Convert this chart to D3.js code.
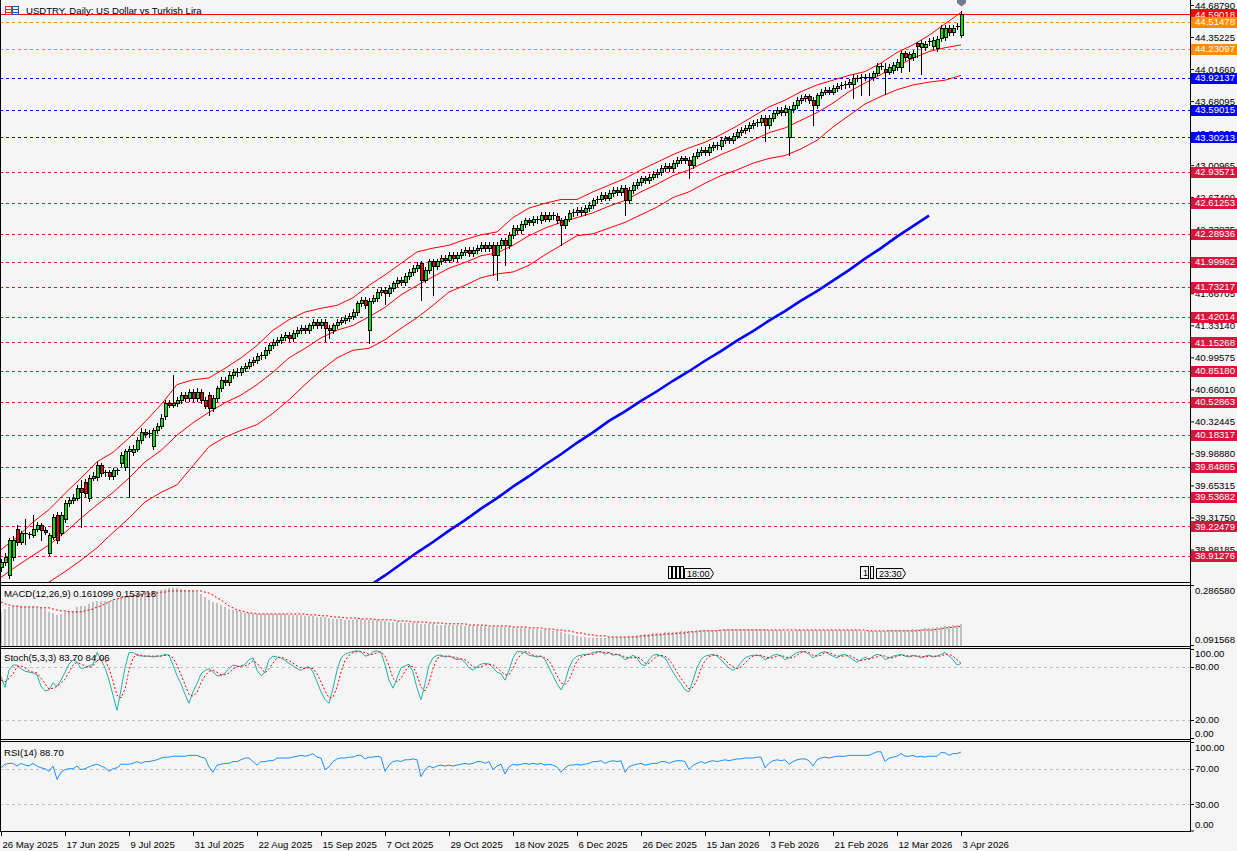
<!DOCTYPE html>
<html><head><meta charset="utf-8">
<script src="https://cdn.jsdelivr.net/npm/d3@7"></script>
<style>
html,body{margin:0;padding:0;background:#f5f5f5;overflow:hidden;}
svg{display:block;font-family:"Liberation Sans",Arial,sans-serif;}
</style></head><body>
<script>
// ---------------- DATA ----------------
const title = "USDTRY, Daily:  US Dollar vs Turkish Lira";
const dateLabels = ["26 May 2025","17 Jun 2025","9 Jul 2025","31 Jul 2025","22 Aug 2025","15 Sep 2025","7 Oct 2025","29 Oct 2025","18 Nov 2025","6 Dec 2025","26 Dec 2025","15 Jan 2026","3 Feb 2026","21 Feb 2026","12 Mar 2026","3 Apr 2026"];
const priceTicks = [44.68790,44.35225,44.01660,43.68095,43.34530,43.00965,42.67400,42.33835,42.00270,41.66705,41.33140,40.99575,40.66010,40.32445,39.98880,39.65315,39.31750,38.98185];
const bidPrice = 44.59018;
const orangeLevels = [44.51478,44.23097];
const blueLevels = [43.92137,43.59015,43.30213];
const crimsonLevels = [42.93571,42.61253,42.28936,41.99962,41.73217,41.42014,41.15268,40.85180,40.52863,40.18317,39.84885,39.53682,39.22479,38.91276];

const open = [38.80,38.85,38.71,38.90,39.20,39.06,39.15,39.14,39.13,39.20,
39.24,39.19,38.95,39.11,39.34,39.16,39.30,39.47,39.50,39.52,
39.63,39.69,39.52,39.73,39.74,39.87,39.78,39.79,39.75,39.81,
39.89,39.85,40.01,40.00,40.04,40.13,40.21,40.19,40.07,40.23,
40.28,40.38,40.52,40.50,40.52,40.55,40.60,40.57,40.63,40.57,
40.63,40.55,40.60,40.46,40.57,40.67,40.76,40.74,40.81,40.84,
40.84,40.88,40.91,40.95,40.97,41.01,41.02,41.07,41.12,41.16,
41.18,41.21,41.23,41.20,41.25,41.28,41.30,41.28,41.33,41.37,
41.33,41.37,41.30,41.28,41.33,41.37,41.39,41.41,41.43,41.47,
41.56,41.60,41.28,41.59,41.62,41.68,41.70,41.67,41.72,41.77,
41.81,41.78,41.85,41.89,41.93,41.98,41.81,41.91,42.00,41.95,
42.00,42.04,42.02,42.07,42.04,42.07,42.10,42.12,42.09,42.12,
42.14,42.17,42.14,42.17,42.07,42.17,42.22,42.17,42.28,42.35,
42.33,42.39,42.43,42.41,42.45,42.43,42.49,42.45,42.49,42.48,
42.43,42.38,42.45,42.51,42.52,42.54,42.52,42.56,42.59,42.64,
42.66,42.70,42.67,42.72,42.75,42.73,42.77,42.64,42.75,42.80,
42.83,42.87,42.85,42.89,42.92,42.94,42.98,43.00,42.98,43.03,
43.06,43.08,43.06,43.01,43.11,43.15,43.17,43.15,43.20,43.22,
43.21,43.27,43.29,43.27,43.32,43.36,43.38,43.40,43.43,43.45,
43.46,43.50,43.43,43.50,43.56,43.59,43.57,43.30,43.60,43.64,
43.69,43.71,43.73,43.69,43.64,43.74,43.78,43.80,43.78,43.82,
43.84,43.85,43.86,43.86,43.92,43.92,43.93,43.93,43.93,43.98,
44.05,44.02,43.99,44.01,44.04,44.04,44.18,44.13,44.14,44.29,
44.25,44.25,44.30,44.26,44.24,44.34,44.35,44.45,44.40,44.47,44.37];
const close = [38.85,38.90,39.08,39.08,39.06,39.15,39.14,39.13,39.20,39.24,
39.19,39.17,39.13,39.32,39.08,39.34,39.47,39.50,39.52,39.63,
39.58,39.57,39.73,39.75,39.87,39.78,39.79,39.75,39.81,39.80,
39.97,40.01,40.03,40.04,40.13,40.21,40.19,40.20,40.23,40.28,
40.36,40.52,40.50,40.52,40.55,40.60,40.57,40.63,40.57,40.63,
40.55,40.49,40.46,40.57,40.67,40.76,40.74,40.81,40.84,40.84,
40.88,40.91,40.95,40.97,41.01,41.02,41.07,41.12,41.16,41.18,
41.21,41.23,41.20,41.25,41.28,41.30,41.28,41.33,41.37,41.33,
41.37,41.30,41.28,41.33,41.37,41.39,41.41,41.43,41.47,41.56,
41.60,41.54,41.59,41.62,41.68,41.70,41.67,41.72,41.77,41.81,
41.78,41.85,41.89,41.93,41.96,41.81,41.91,42.00,41.95,42.00,
42.04,42.02,42.07,42.04,42.07,42.10,42.12,42.09,42.12,42.14,
42.17,42.14,42.17,42.07,42.17,42.22,42.17,42.28,42.35,42.33,
42.39,42.43,42.41,42.45,42.43,42.49,42.45,42.49,42.48,42.43,
42.38,42.45,42.51,42.52,42.54,42.52,42.56,42.59,42.64,42.66,
42.70,42.67,42.72,42.75,42.73,42.77,42.64,42.75,42.80,42.83,
42.87,42.85,42.89,42.92,42.94,42.98,43.00,42.98,43.03,43.06,
43.08,43.06,43.01,43.11,43.15,43.17,43.15,43.20,43.22,43.21,
43.27,43.29,43.27,43.32,43.36,43.38,43.40,43.43,43.45,43.46,
43.50,43.43,43.50,43.56,43.59,43.57,43.61,43.60,43.64,43.69,
43.71,43.73,43.69,43.64,43.74,43.78,43.80,43.78,43.82,43.84,
43.85,43.86,43.88,43.92,43.92,43.93,43.93,43.93,43.98,44.05,
44.05,43.99,44.04,44.06,44.09,44.18,44.14,44.17,44.19,44.26,
44.29,44.28,44.31,44.32,44.33,44.45,44.45,44.40,44.45,44.47,44.59];
const high = [38.88,38.94,39.10,39.12,39.24,39.18,39.30,39.17,39.34,39.27,
39.26,39.22,39.16,39.35,39.37,39.37,39.50,39.53,39.56,39.66,
39.71,39.72,39.76,39.79,39.90,39.89,39.82,39.82,39.84,39.84,
40.00,40.04,40.07,40.08,40.16,40.25,40.24,40.23,40.26,40.31,
40.40,40.55,40.55,40.81,40.58,40.63,40.63,40.66,40.66,40.67,
40.66,40.58,40.63,40.60,40.70,40.79,40.79,40.84,40.87,40.88,
40.91,40.94,40.98,41.00,41.04,41.05,41.10,41.15,41.19,41.21,
41.24,41.26,41.26,41.28,41.31,41.33,41.33,41.36,41.40,41.40,
41.40,41.40,41.33,41.36,41.40,41.42,41.44,41.46,41.50,41.59,
41.63,41.63,41.62,41.65,41.71,41.73,41.73,41.75,41.80,41.84,
41.84,41.88,41.92,41.96,41.99,42.01,41.94,42.03,42.03,42.03,
42.07,42.07,42.10,42.10,42.10,42.13,42.15,42.15,42.15,42.17,
42.20,42.20,42.20,42.20,42.20,42.25,42.25,42.31,42.38,42.38,
42.42,42.46,42.46,42.48,42.48,42.52,42.52,42.52,42.52,42.51,
42.46,42.48,42.54,42.55,42.57,42.57,42.59,42.62,42.67,42.69,
42.73,42.73,42.75,42.78,42.78,42.80,42.80,42.78,42.83,42.86,
42.90,42.90,42.92,42.95,42.97,43.01,43.03,43.03,43.06,43.09,
43.11,43.11,43.09,43.14,43.18,43.20,43.20,43.23,43.25,43.25,
43.30,43.32,43.32,43.35,43.39,43.41,43.43,43.46,43.48,43.49,
43.53,43.53,43.53,43.59,43.62,43.62,43.64,43.63,43.67,43.72,
43.74,43.76,43.76,43.72,43.77,43.81,43.83,43.83,43.85,43.87,
43.88,43.89,43.91,43.97,43.95,43.96,43.96,43.98,44.00,44.08,
44.08,44.08,44.07,44.09,44.12,44.21,44.21,44.20,44.22,44.30,
44.32,44.31,44.34,44.35,44.36,44.48,44.48,44.48,44.48,44.50,44.63];
const low = [38.76,38.82,38.68,38.87,39.03,39.04,39.04,39.10,39.11,39.18,
39.08,39.14,38.92,39.09,39.05,39.13,39.27,39.44,39.47,39.50,
39.22,39.54,39.49,39.71,39.71,39.75,39.75,39.72,39.72,39.77,
39.86,39.82,39.53,39.97,40.01,40.10,40.16,40.16,40.04,40.20,
40.25,40.35,40.47,40.47,40.49,40.52,40.54,40.54,40.54,40.54,
40.52,40.46,40.39,40.43,40.54,40.64,40.71,40.71,40.78,40.80,
40.81,40.85,40.88,40.92,40.94,40.98,40.99,41.04,41.09,41.13,
41.15,41.18,41.17,41.17,41.22,41.25,41.25,41.25,41.30,41.30,
41.30,41.17,41.20,41.25,41.30,41.34,41.36,41.38,41.40,41.44,
41.53,41.51,41.15,41.56,41.59,41.65,41.55,41.64,41.69,41.74,
41.75,41.75,41.82,41.86,41.90,41.60,41.78,41.88,41.65,41.92,
41.97,41.99,41.99,42.01,42.01,42.04,42.07,42.06,42.06,42.09,
42.11,42.11,42.11,41.86,41.81,42.14,41.96,42.14,42.25,42.30,
42.30,42.36,42.38,42.38,42.40,42.40,42.42,42.42,42.45,42.40,
42.17,42.35,42.42,42.48,42.49,42.49,42.49,42.53,42.56,42.61,
42.63,42.64,42.64,42.69,42.70,42.70,42.49,42.61,42.72,42.77,
42.80,42.82,42.82,42.86,42.89,42.91,42.95,42.95,42.95,43.00,
43.03,43.03,42.87,42.98,43.08,43.12,43.12,43.12,43.17,43.18,
43.18,43.24,43.24,43.24,43.29,43.33,43.35,43.37,43.40,43.42,
43.43,43.26,43.40,43.47,43.53,43.54,43.54,43.12,43.57,43.61,
43.66,43.68,43.66,43.43,43.61,43.71,43.75,43.75,43.75,43.79,
43.81,43.82,43.83,43.71,43.89,43.74,43.90,43.74,43.90,43.95,
44.02,43.76,43.96,43.98,44.01,43.99,44.11,44.00,44.11,44.14,
43.97,44.22,44.27,44.23,44.21,44.31,44.32,44.37,44.37,44.44,44.35];

// Bollinger bands and moving average, read every 4th bar
const bandStep = 4;
const bbUpper = [38.98,39.11,39.27,39.40,39.57,39.73,39.90,40.00,40.15,40.32,40.50,40.71,40.76,40.78,40.88,40.99,41.12,41.28,41.39,41.47,41.51,41.54,41.62,41.75,41.86,41.98,42.10,42.14,42.17,42.23,42.28,42.31,42.46,42.56,42.61,42.65,42.65,42.73,42.80,42.87,42.96,43.04,43.12,43.19,43.25,43.33,43.42,43.52,43.62,43.69,43.78,43.85,43.90,43.95,43.99,44.08,44.19,44.27,44.37,44.49,44.61];
const bbMiddle = [38.69,38.81,38.92,39.03,39.16,39.31,39.45,39.58,39.73,39.90,40.02,40.18,40.31,40.42,40.52,40.60,40.71,40.84,40.99,41.09,41.20,41.28,41.33,41.42,41.52,41.65,41.75,41.84,41.93,41.99,42.06,42.09,42.17,42.27,42.35,42.41,42.46,42.51,42.58,42.64,42.73,42.81,42.90,42.96,43.04,43.12,43.19,43.27,43.35,43.40,43.48,43.56,43.66,43.78,43.87,43.96,44.05,44.13,44.20,44.24,44.27];
const bbLower = [38.45,38.50,38.58,38.64,38.75,38.87,39.00,39.16,39.31,39.48,39.58,39.66,39.86,40.06,40.16,40.23,40.29,40.41,40.55,40.71,40.86,40.99,41.07,41.09,41.18,41.30,41.41,41.54,41.68,41.75,41.83,41.87,41.89,41.96,42.07,42.17,42.27,42.29,42.35,42.41,42.49,42.57,42.67,42.73,42.82,42.90,42.96,43.03,43.08,43.11,43.18,43.27,43.41,43.53,43.65,43.73,43.80,43.85,43.88,43.90,43.95];
const maLine = [null,null,null,null,null,null,null,null,null,null,null,null,null,null,null,null,null,null,null,null,null,null,null,
38.60,38.71,38.83,38.95,39.06,39.18,39.29,39.41,39.52,39.64,39.75,39.87,39.98,40.10,40.21,40.33,40.43,40.54,40.64,40.75,40.85,40.96,41.06,41.17,41.27,41.38,41.48,41.59,41.69,41.80,41.91,42.03,42.14,42.26,42.37,42.48,null,null];

// MACD(12,26,9)
const macdLabel = "MACD(12,26,9) 0.161099 0.153718";
const macdMax = 0.286580, macdMin = 0.091568;
const macdHist = [.201,.210,.217,.220,.220,.220,.217,.217,.217,.214,
.214,.210,.201,.197,.191,.194,.201,.204,.204,.217,
.220,.220,.227,.233,.236,.236,.236,.236,.240,.243,
.249,.252,.252,.256,.259,.262,.265,.265,.269,.269,
.272,.275,.279,.279,.279,.275,.272,.272,.269,.265,
.259,.249,.240,.233,.230,.223,.217,.210,.207,.204,
.201,.197,.197,.194,.194,.194,.194,.194,.194,.194,
.194,.194,.191,.191,.191,.191,.188,.188,.188,.184,
.184,.184,.181,.178,.178,.178,.175,.175,.175,.178,
.178,.175,.175,.175,.175,.171,.171,.168,.168,.168,
.165,.165,.165,.165,.165,.162,.162,.162,.162,.158,.158,.158,.158,
.158,.158,.158,.155,.155,.155,.155,.155,.155,.152,.152,.152,.152,
.152,.152,.149,.149,.149,.149,.145,.145,.145,.142,.142,.142,
.139,.139,.136,.132,.129,.126,.123,.119,.119,.116,
.116,.116,.116,.116,.119,.119,.119,.119,
.119,.123,.123,.126,.126,.129,.129,.132,.132,.132,.136,.136,
.136,.136,.139,.139,.139,.139,.142,.142,.142,.142,.142,.142,.142,
.145,.145,.145,.145,.145,.145,.145,.145,.145,.145,.145,.142,.142,
.142,.142,.139,.139,.139,.142,.142,.142,.142,.142,.142,.142,.142,.142,.142,.142,.142,
.142,.142,.142,.142,.139,.139,.139,.139,.139,.139,.139,.142,.142,.142,.142,
.142,.142,.145,.145,.145,.149,.149,.149,.152,.152,.155,.155,.158,.158,.161];
const macdSignal = [.233,.227,.223,
.220,.220,.217,.217,.217,.217,
.217,.214,.214,.214,.210,.207,
.204,.204,.201,.201,.201,.201,.204,
.207,.210,.217,.220,.227,.233,.240,
.243,.246,.249,.252,.252,.256,.256,.259,
.259,.262,.262,.265,.265,.269,.269,
.269,.269,.269,.269,.269,.269,.269,
.265,.262,.256,.246,.240,.230,.220,
.214,.207,.204,.201,.197,.197,.194,
.194,.194,.194,.194,.194,.194,.194,.194,.194,.194,
.194,.194,.191,.191,.191,.188,.188,.188,.184,.184,.184,.181,.181,
.181,.181,.178,.178,.178,.178,.175,.175,.175,.175,.175,.171,.171,
.171,.171,.168,.168,.168,.168,.165,.165,.165,.165,.162,.162,
.162,.162,.162,.162,.158,.158,.158,.158,.158,.155,.155,.155,.155,
.155,.155,.152,.152,.152,.152,.149,.149,.149,.149,.145,.145,
.145,.142,.142,.139,.139,.136,.132,.132,.129,.126,
.126,.123,.123,.123,.119,.119,.119,.119,
.119,.119,.119,.119,.123,.123,.123,.126,.126,.126,.129,.129,
.129,.132,.132,.132,.136,.136,.136,.139,.139,.139,.139,.139,.142,
.142,.142,.142,.142,.142,.142,.142,.142,.142,.142,.142,.142,.142,
.142,.142,.142,.142,.142,.142,.142,.142,.142,.142,.142,.142,.142,.142,.142,.142,.142,
.142,.142,.142,.142,.142,.142,.139,.139,.139,.139,.139,.139,.139,.139,.139,
.139,.139,.139,.139,.142,.142,.142,.142,.145,.145,.149,.149,.152,.152,.154];

// Stochastic(5,3,3)
const stochLabel = "Stoch(5,3,3) 83.70 84.06";
const stochK = [69,57,76,82,82,78,75,74,73,71,
58,53,54,62,58,65,74,83,88,85,
78,79,81,83,96,88,79,65,48,31,
54,79,96,96,93,92,92,92,91,92,
92,94,93,82,70,61,49,39,52,61,
72,76,78,74,70,70,73,78,82,81,
80,83,88,90,76,70,74,88,92,91,
90,87,84,81,78,76,79,80,74,63,
52,43,39,56,76,90,94,96,97,98,
97,92,93,97,98,96,82,65,56,67,
79,81,83,74,56,43,61,82,90,93,
93,91,92,90,88,89,85,79,76,80,
83,84,83,79,74,72,65,76,90,97,
97,96,93,92,91,92,88,79,70,61,
54,63,79,88,92,93,94,94,96,97,
97,94,96,93,94,92,88,90,93,90,
83,81,88,93,94,92,90,82,74,67,
61,54,52,65,79,88,92,93,94,92,
88,83,79,76,79,85,90,92,93,93,
92,88,90,93,94,92,88,90,93,96,
97,97,94,90,93,96,97,94,92,90,
93,94,91,88,85,88,91,88,92,94,
93,88,90,92,93,94,92,91,93,92,
90,92,93,91,92,94,96,92,88,82,83.7];
const stochD = [65,63,67,72,80,81,79,75,74,73,
67,61,55,56,58,62,66,74,82,85,
83,81,79,81,87,89,88,78,64,48,
45,55,76,90,94,93,92,92,92,92,
92,93,93,90,82,71,60,49,47,51,
62,70,75,76,74,71,71,73,78,80,
81,81,83,87,84,79,73,78,84,90,
91,89,87,84,81,79,78,79,78,72,
63,53,45,46,57,74,87,93,96,97,
97,96,94,94,96,97,92,81,67,63,
67,75,81,80,71,57,53,62,78,89,
92,92,92,91,90,89,88,84,80,79,
80,82,83,82,79,75,71,71,78,88,
94,97,96,93,92,92,90,87,79,70,
62,60,65,76,87,91,93,94,94,96,
97,96,96,94,94,93,91,90,90,91,
89,84,84,88,92,93,92,88,82,74,
67,61,55,57,65,78,87,91,93,93,
91,88,83,80,78,80,84,89,92,93,
93,91,90,90,92,93,91,90,90,93,
96,97,96,93,92,93,96,96,94,92,
92,92,93,91,88,87,88,89,90,91,
93,92,90,90,92,93,93,92,92,92,
92,91,92,92,92,92,94,94,92,88,84.06];
const stochLevels = [80,20];

// RSI(14)
const rsiLabel = "RSI(14) 88.70";
const rsi = [71,75,76,76,73,76,74,73,76,73,
71,70,67,73,58,66,69,70,70,73,
69,70,72,74,75,73,71,67,70,71,
75,75,75,76,78,76,78,78,79,80,
82,83,83,84,84,84,84,85,85,85,
83,82,72,66,74,75,76,76,78,78,
80,82,82,78,74,78,78,79,79,82,
82,82,82,83,84,85,84,85,87,83,
82,69,72,78,81,82,82,83,83,85,
85,81,83,83,84,83,67,74,78,79,
78,80,80,81,80,61,69,73,71,73,
74,73,74,73,74,75,76,75,76,78,
78,76,78,69,73,75,64,72,75,74,
75,76,75,76,75,76,74,75,74,72,
66,71,74,74,75,74,75,76,78,78,
79,76,78,79,78,79,66,72,74,75,
76,74,75,76,76,78,78,76,78,79,
79,78,69,74,76,78,76,78,79,78,
79,80,79,80,81,81,82,82,82,83,
83,71,76,79,80,79,80,75,78,80,
81,81,79,73,80,82,83,82,83,84,
84,84,85,85,85,85,85,85,87,89,
89,78,82,83,84,87,84,84,85,83,
84,83,84,84,84,88,88,85,87,87,88.7];
const rsiLevels = [70,30];

// event markers on the time axis of the main chart
const eventLabels = ["18:00","23:30"];
const eventBars = [171,219];

// ---------------- DRAWING ----------------
const W = 1237, H = 851, AX = 1190;
const N = close.length;
const svg = d3.select("body").append("svg").attr("width", W).attr("height", H);
svg.append("rect").attr("width", W).attr("height", H).attr("fill", "#f5f5f5");

const x = d3.scaleLinear().domain([0, N - 1]).range([1, 961]);
const yMain = d3.scaleLinear().domain([38.98185, 44.68790]).range([549.5, 5]);
const yMacd = d3.scaleLinear().domain([macdMin, macdMax]).range([645.5, 585.5]);
const yStoch = d3.scaleLinear().domain([0, 100]).range([738, 649]);
const yRsi = d3.scaleLinear().domain([0, 100]).range([831, 742]);

const defs = svg.append("defs");
function clip(id, y0, y1) {
  defs.append("clipPath").attr("id", id).append("rect")
    .attr("x", 0).attr("y", y0).attr("width", AX).attr("height", y1 - y0);
}
clip("cMain", 0, 582); clip("cMacd", 586, 646); clip("cStoch", 649, 739); clip("cRsi", 742, 831);

const FS = 9.6;
// ---- main panel
const gMain = svg.append("g").attr("clip-path", "url(#cMain)");
function hline(g, v, color, dash) {
  const yy = Math.round(yMain(v)) + 0.5;
  g.append("line").attr("x1", 0).attr("x2", AX).attr("y1", yy).attr("y2", yy)
    .attr("stroke", color).attr("stroke-width", 1).attr("stroke-dasharray", dash || null);
}
crimsonLevels.forEach(v => hline(gMain, v, "#dc143c", "3,3"));
blueLevels.forEach(v => hline(gMain, v, "#0000ff", "3,3"));
orangeLevels.forEach(v => hline(gMain, v, "#ff8c00", "3,3"));
hline(gMain, bidPrice, "#ff0000", null);

const bandLine = d3.line().defined(d => d != null).x((d, k) => x(k * bandStep)).y(d => yMain(d));
[bbUpper, bbMiddle, bbLower].forEach(arr => {
  gMain.append("path").attr("d", bandLine(arr)).attr("fill", "none")
    .attr("stroke", "#ff0000").attr("stroke-width", 1);
});
gMain.append("path").attr("d", bandLine(maLine)).attr("fill", "none")
  .attr("stroke", "#0000ff").attr("stroke-width", 2.6);

const gC = gMain.append("g");
close.forEach((c, i) => {
  const o = open[i], X = Math.round(x(i));
  gC.append("line").attr("x1", X + 0.5).attr("x2", X + 0.5)
    .attr("y1", Math.round(yMain(high[i]))).attr("y2", Math.round(yMain(low[i])) + 1)
    .attr("stroke", "#000").attr("stroke-width", 1);
  const yt = Math.round(yMain(Math.max(o, c))), yb = Math.round(yMain(Math.min(o, c)));
  if (yb - yt < 2) {
    gC.append("line").attr("x1", X - 1).attr("x2", X + 3).attr("y1", yt + 0.5).attr("y2", yt + 0.5)
      .attr("stroke", "#000").attr("stroke-width", 1);
  } else {
    gC.append("rect").attr("x", X - 0.5).attr("y", yt + 0.5).attr("width", 3).attr("height", yb - yt)
      .attr("fill", c >= o ? "#00e600" : "#f00000").attr("stroke", "#000").attr("stroke-width", 1);
  }
});

// event markers
eventBars.forEach((b, j) => {
  const L = Math.round(x(b)) - 1, top = 568, bot = 578;
  const g = svg.append("g").attr("stroke", "#000").attr("stroke-width", 1).attr("fill", "#f5f5f5");
  if (j === 0) {
    [16, 12, 8, 4].forEach(d => g.append("rect").attr("x", L - d + 0.5).attr("y", 566.5).attr("width", 3).attr("height", 12));
  } else {
    g.append("rect").attr("x", L - 16 + 0.5).attr("y", 566.5).attr("width", 8).attr("height", 12);
    svg.append("text").attr("x", L - 13).attr("y", 576).attr("font-size", 9).text("1");
    g.append("rect").attr("x", L - 6 + 0.5).attr("y", 566.5).attr("width", 3).attr("height", 12);
  }
  g.append("path").attr("d", `M${L + 0.5},${top + 0.5}H${L + 26.5}L${L + 29.5},${(top + bot) / 2 + 0.5}L${L + 26.5},${bot + 0.5}H${L + 0.5}Z`);
  svg.append("text").attr("x", L + 3).attr("y", bot - 1.5).attr("font-size", 9).attr("fill", "#000").text(eventLabels[j]);
});

// gray marker above last bar
const XL = Math.round(x(N - 1));
svg.append("path").attr("d", `M${XL - 4},0H${XL + 5}V3L${XL + 0.5},6.5L${XL - 4},3Z`).attr("fill", "#6f7d8c");

// title
const ic = svg.append("g");
ic.append("rect").attr("x", 5.5).attr("y", 6.5).attr("width", 6).attr("height", 8).attr("fill", "none").attr("stroke", "#e03030");
ic.append("rect").attr("x", 12.5).attr("y", 6.5).attr("width", 6).attr("height", 8).attr("fill", "none").attr("stroke", "#2050c0");
[9.5, 12.5].forEach(yy => {
  ic.append("line").attr("x1", 6).attr("x2", 11).attr("y1", yy).attr("y2", yy).attr("stroke", "#e03030");
  ic.append("line").attr("x1", 13).attr("x2", 18).attr("y1", yy).attr("y2", yy).attr("stroke", "#2050c0");
});
svg.append("text").attr("x", 26).attr("y", 14).attr("font-size", FS).attr("fill", "#000").text(title);

// ---- MACD panel
const gMacd = svg.append("g").attr("clip-path", "url(#cMacd)");
macdHist.forEach((v, i) => {
  const X = Math.round(x(i));
  gMacd.append("rect").attr("x", X - 1).attr("y", yMacd(v)).attr("width", 2).attr("height", 646 - yMacd(v)).attr("fill", "#c0c0c0");
});
gMacd.append("path").attr("d", d3.line().x((d, i) => x(i)).y(d => yMacd(d))(macdSignal))
  .attr("fill", "none").attr("stroke", "#ff0000").attr("stroke-width", 1).attr("stroke-dasharray", "2,2");

// ---- Stochastic panel
const gSt = svg.append("g").attr("clip-path", "url(#cStoch)");
stochLevels.forEach(v => gSt.append("line").attr("x1", 0).attr("x2", AX).attr("y1", Math.round(yStoch(v)) + 0.5).attr("y2", Math.round(yStoch(v)) + 0.5)
  .attr("stroke", "#c0c0c0").attr("stroke-dasharray", "3,3"));
gSt.append("path").attr("d", d3.line().x((d, i) => x(i)).y(d => yStoch(d))(stochK))
  .attr("fill", "none").attr("stroke", "#20b2aa").attr("stroke-width", 1);
gSt.append("path").attr("d", d3.line().x((d, i) => x(i)).y(d => yStoch(d))(stochD))
  .attr("fill", "none").attr("stroke", "#ff0000").attr("stroke-width", 1).attr("stroke-dasharray", "2,2");

// ---- RSI panel
const gR = svg.append("g").attr("clip-path", "url(#cRsi)");
rsiLevels.forEach(v => gR.append("line").attr("x1", 0).attr("x2", AX).attr("y1", Math.round(yRsi(v)) + 0.5).attr("y2", Math.round(yRsi(v)) + 0.5)
  .attr("stroke", "#c0c0c0").attr("stroke-dasharray", "3,3"));
gR.append("path").attr("d", d3.line().x((d, i) => x(i)).y(d => yRsi(d))(rsi))
  .attr("fill", "none").attr("stroke", "#1e90ff").attr("stroke-width", 1);

// ---- frames
const fr = svg.append("g").attr("stroke", "#000").attr("stroke-width", 1);
fr.append("line").attr("x1", 0.5).attr("x2", 0.5).attr("y1", 0).attr("y2", 832);
fr.append("line").attr("x1", AX + 0.5).attr("x2", AX + 0.5).attr("y1", 0).attr("y2", 832);
[582.5, 585.5, 646.5, 648.5, 739.5, 741.5, 831.5].forEach(yy =>
  fr.append("line").attr("x1", 0).attr("x2", AX + 1).attr("y1", yy).attr("y2", yy));

// ---- right price axis
const gAx = svg.append("g").attr("transform", `translate(${AX},0)`)
  .call(d3.axisRight(yMain).tickValues(priceTicks).tickFormat(d3.format(".5f")).tickSize(4).tickPadding(1));
gAx.select(".domain").remove();
gAx.attr("font-family", null).attr("font-size", FS);
gAx.selectAll("text").attr("fill", "#000");
gAx.selectAll("line").attr("stroke", "#000");

// level labels
function tag(v, color) {
  const yy = yMain(v);
  svg.append("rect").attr("x", 1191).attr("y", Math.round(yy) - 5).attr("width", 46).attr("height", 11).attr("fill", color);
  svg.append("text").attr("x", 1195).attr("y", yy).attr("dy", "0.34em").attr("font-size", FS).attr("fill", "#fff").text(d3.format(".5f")(v));
}
tag(bidPrice, "#ff0000");
orangeLevels.forEach(v => tag(v, "#ff8c00"));
blueLevels.forEach(v => tag(v, "#0000ff"));
crimsonLevels.forEach(v => tag(v, "#dc143c"));

// sub-panel scale labels
function sideLabel(txt, yTick, yText) {
  svg.append("line").attr("x1", AX).attr("x2", AX + 4).attr("y1", yTick).attr("y2", yTick).attr("stroke", "#000");
  svg.append("text").attr("x", AX + 5).attr("y", yText).attr("dy", "0.34em").attr("font-size", FS).attr("fill", "#000").text(txt);
}
sideLabel(d3.format(".6f")(macdMax), 585.5, 591);
sideLabel(d3.format(".6f")(macdMin), 645.5, 640);
sideLabel("100.00", 649.5, 654);
stochLevels.forEach(v => sideLabel(d3.format(".2f")(v), Math.round(yStoch(v)) + 0.5, yStoch(v)));
sideLabel("0.00", 738.5, 734);
sideLabel("100.00", 742.5, 748);
rsiLevels.forEach(v => sideLabel(d3.format(".2f")(v), Math.round(yRsi(v)) + 0.5, yRsi(v)));
sideLabel("0.00", 831, 825);

// indicator captions
svg.append("text").attr("x", 4).attr("y", 596.5).attr("font-size", FS).attr("fill", "#000").text(macdLabel);
svg.append("text").attr("x", 4).attr("y", 660.5).attr("font-size", FS).attr("fill", "#000").text(stochLabel);
svg.append("text").attr("x", 4).attr("y", 755.5).attr("font-size", FS).attr("fill", "#000").text(rsiLabel);

// ---- time axis
const gX = svg.append("g").attr("transform", "translate(0,831)")
  .call(d3.axisBottom(x).tickValues(d3.range(0, N, 16)).tickFormat((d, i) => dateLabels[i]).tickSize(5).tickPadding(5));
gX.select(".domain").remove();
gX.attr("font-family", null).attr("font-size", FS);
gX.selectAll("text").attr("text-anchor", "start").attr("dx", 1).attr("fill", "#000");
gX.selectAll("line").attr("stroke", "#000");
</script>
</body></html>
